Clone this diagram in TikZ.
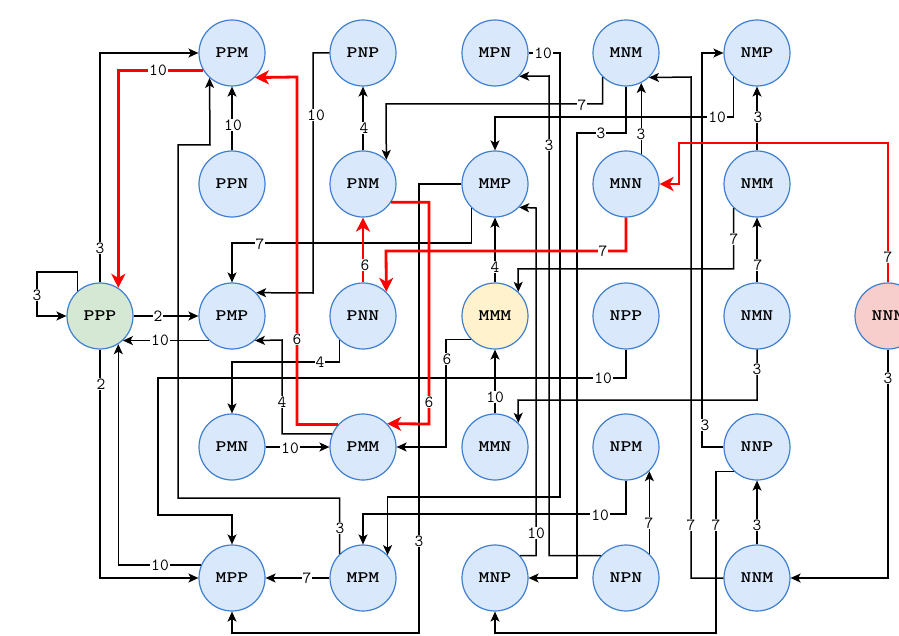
\documentclass[tikz,border=0pt]{standalone}
\usepackage{fontspec}
\usetikzlibrary{arrows.meta}
\definecolor{nfill}{HTML}{DAE8FC}
\definecolor{nline}{HTML}{3F7FCF}
\definecolor{gfill}{HTML}{D5E8D4}
\definecolor{yfill}{HTML}{FFF2CC}
\definecolor{pfill}{HTML}{F8CECC}
\definecolor{rline}{HTML}{FF0000}
\newcommand{\nlab}[1]{\scalebox{1.3}[1]{#1}}
\begin{document}
\begin{tikzpicture}[x=1pt,y=-1pt,
 st/.style={circle, draw=nline, line width=1.2pt, fill=nfill, minimum size=66pt, inner sep=0pt, font=\ttfamily\bfseries\fontsize{16}{16}\selectfont},
 e/.style={draw=black, line width=1.5pt, -{Stealth[length=10pt,width=9pt,inset=2.5pt]}},
 rd/.style={draw=rline, line width=2.8pt, -{Stealth[length=14pt,width=14pt,inset=4pt]}},
 lbl/.style={fill=white, inner sep=1pt, font=\ttfamily\fontsize{17}{17}\selectfont}]
\useasboundingbox (0,0) rectangle (899,636);
% nodes
\node[st, fill=gfill] (PPP) at (100,316) {\nlab{PPP}};
\node[st] (PPM) at (232,53) {\nlab{PPM}};
\node[st] (PNP) at (363,53) {\nlab{PNP}};
\node[st] (MPN) at (495,53) {\nlab{MPN}};
\node[st] (MNM) at (626,53) {\nlab{MNM}};
\node[st] (NMP) at (757,53) {\nlab{NMP}};
\node[st] (PPN) at (232,184) {\nlab{PPN}};
\node[st] (PNM) at (363,184) {\nlab{PNM}};
\node[st] (MMP) at (495,184) {\nlab{MMP}};
\node[st] (MNN) at (626,184) {\nlab{MNN}};
\node[st] (NMM) at (757,184) {\nlab{NMM}};
\node[st] (PMP) at (232,316) {\nlab{PMP}};
\node[st] (PNN) at (363,316) {\nlab{PNN}};
\node[st, fill=yfill] (MMM) at (495,316) {\nlab{MMM}};
\node[st] (NPP) at (626,316) {\nlab{NPP}};
\node[st] (NMN) at (757,316) {\nlab{NMN}};
\node[st, fill=pfill] (NNN) at (888,316) {\nlab{NNN}};
\node[st] (PMN) at (232,447) {\nlab{PMN}};
\node[st] (PMM) at (363,447) {\nlab{PMM}};
\node[st] (MMN) at (495,447) {\nlab{MMN}};
\node[st] (NPM) at (626,447) {\nlab{NPM}};
\node[st] (NNP) at (757,447) {\nlab{NNP}};
\node[st] (MPP) at (232,578) {\nlab{MPP}};
\node[st] (MPM) at (363,578) {\nlab{MPM}};
\node[st] (MNP) at (495,578) {\nlab{MNP}};
\node[st] (NPN) at (626,578) {\nlab{NPN}};
\node[st] (NNM) at (757,578) {\nlab{NNM}};
% black edges
\draw[e] (PPP.132) |- (37,272) |- (PPP.west) node[lbl] at (37,295) {3};
\draw[e] (PPP.north) |- (PPM.west) node[lbl] at (100,248) {3};
\draw[e] (PPN) -- (PPM) node[lbl] at (233,125) {10};
\draw[e] (MPM.134) |- (178,498) |- (210,145) -- (PPM.228) node[lbl] at (340,528) {3};
\draw[e] (PNP.west) -| (313,293) -- (PMP.44) node[lbl] at (316,115) {10};
\draw[e] (PNM) -- (PNP) node[lbl] at (364,128) {4};
\draw[e] (MNM.226) |- (386,104) -- (PNM.46) node[lbl] at (582,105) {7};
\draw[e] (MMP.west) -| (419,633) -| (MPP.south) node[lbl] at (419,541) {3};
\draw[e] (MMP.226) |- (232,243) -- (PMP.north) node[lbl] at (260,244) {7};
\draw[e] (MMM) -- (MMP) node[lbl] at (495,267) {4};
\draw[e] (NMM.226) |- (518,269) -- (MMM.46) node[lbl] at (734,239) {7};
\draw[e] (MNP.42) -| (536,208) -- (MMP.-44) node[lbl] at (536,533) {10};
\draw[e] (MPN.east) -| (560,497) -| (MPM.43) node[lbl] at (543,53) {10};
\draw[e] (NPN.138) -| (549,76) -- (MPN.-44) node[lbl] at (549,145) {3};
\draw[e] (MNM.south) |- (577,133) |- (MNP.east) node[lbl] at (601,133) {3};
\draw[e] (MNN.63) -- (MNM.-63) node[lbl] at (641,134) {3};
\draw[e] (NNM.west) -| (691,77) -- (MNM.-47) node[lbl] at (691,525) {7};
\draw[e] (NNP.west) -| (702,53) -- (NMP.west) node[lbl] at (705,425) {3};
\draw[e] (NMP.226) |- (495,117) -- (MMP.north) node[lbl] at (717,117) {10};
\draw[e] (NMM) -- (NMP) node[lbl] at (758,117) {3};
\draw[e] (NMN) -- (NMM) node[lbl] at (758,265) {7};
\draw[e] (PPP) -- (PMP) node[lbl] at (158,316) {2};
\draw[e] (PMP.227) -- (PPP.-47) node[lbl] at (160,340) {10};
\draw[e] (PPP.south) |- (MPP.west) node[lbl] at (101,384) {2};
\draw[e] (MPP.157) -| (PPP.-57) node[lbl] at (160,565) {10};
\draw[e] (PMM.157) -| (282,340) -- (PMP.-47) node[lbl] at (282,402) {4};
\draw[e] (PNN.226) |- (232,362) -- (PMN.north) node[lbl] at (320,362) {4};
\draw[e] (PMN) -- (PMM) node[lbl] at (290,448) {10};
\draw[e] (MPM) -- (MPP) node[lbl] at (307,578) {7};
\draw[e] (NPP.south) |- (158,378) |- (232,515) -- (MPP.north) node[lbl] at (603,378) {10};
\draw[e] (MMM.224) -| (446,447) -- (PMM.east) node[lbl] at (447,359) {6};
\draw[e] (MMN) -- (MMM) node[lbl] at (495,397) {10};
\draw[e] (NMN.south) |- (518,400) -- (MMN.46) node[lbl] at (757,369) {3};
\draw[e] (NNN.south) |- (NNM.east) node[lbl] at (888,378) {3};
\draw[e] (NPN.46) -- (NPM.-46) node[lbl] at (649,523) {7};
\draw[e] (NNM) -- (NNP) node[lbl] at (757,525) {3};
\draw[e] (NNP.227) -| (716,633) -| (MNP.south) node[lbl] at (716,525) {7};
\draw[e] (NPM.south) |- (363,514) -- (MPM.north) node[lbl] at (600,515) {10};
% red path
\draw[rd] (PPM.211) -| (PPP.57) node[lbl] at (158,70) {10};
\draw[rd] (PMM.138) -| (297,77) -- (PPM.-47) node[lbl] at (297,339) {6};
\draw[rd] (PNM.-33) -| (429,424) -- (PMM.44) node[lbl] at (429,402) {6};
\draw[rd] (PNN) -- (PNM) node[lbl] at (365,265) {6};
\draw[rd] (MNN.south) |- (386,251) -- (PNN.46) node[lbl] at (603,251) {7};
\draw[rd] (NNN.north) |- (679,143) |- (MNN.east) node[lbl] at (888,257) {7};
\end{tikzpicture}
\end{document}
